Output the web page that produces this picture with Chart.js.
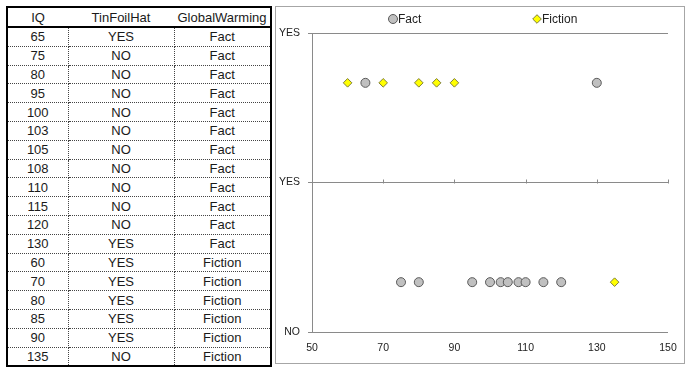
<!DOCTYPE html>
<html>
<head>
<meta charset="utf-8">
<script src="https://cdn.jsdelivr.net/npm/chart.js@4.4.1/dist/chart.umd.min.js"></script>
<style>
    body { margin: 0; background: #fff; width: 693px; height: 372px; position: relative; overflow: hidden; }
    #dataTable {
        position: absolute; left: 6px; top: 6px; width: 266px;
        border-collapse: collapse; border: 2px solid #000;
        font-family: "Liberation Sans", Arial, sans-serif; font-size: 13px; color: #1a1a1a;
    }
    #dataTable th, #dataTable td { text-align: center; padding: 0; }
    #dataTable th { font-weight: normal; height: 18px; border-bottom: 2px solid #000; }
    #dataTable td { height: 17.8px; border: 1px dotted #444; }
    #dataTable tr:last-child td { border-bottom: none; }
    #dataTable td:first-child { border-left: none; }
    #dataTable td:last-child { border-right: none; }
    #chartBox {
        position: absolute; left: 275px; top: 6px; width: 408px; height: 356px;
        border: 1px solid #a6a6a6;
    }
</style>
</head>
<body>
<table id="dataTable">
    <colgroup><col style="width:61px"><col style="width:106px"><col style="width:97px"></colgroup>
    <thead><tr id="headRow"></tr></thead>
    <tbody id="tableBody"></tbody>
</table>
<div id="chartBox"><canvas id="scatterChart" width="408" height="356"></canvas></div>

<script>
// table / chart data
const columns = ['IQ', 'TinFoilHat', 'GlobalWarming'];
const iq = [65, 75, 80, 95, 100, 103, 105, 108, 110, 115, 120, 130, 60, 70, 80, 85, 90, 135];
const tinFoilHat = ['YES', 'NO', 'NO', 'NO', 'NO', 'NO', 'NO', 'NO', 'NO', 'NO', 'NO', 'YES',
                    'YES', 'YES', 'YES', 'YES', 'YES', 'NO'];
const globalWarming = ['Fact', 'Fact', 'Fact', 'Fact', 'Fact', 'Fact', 'Fact', 'Fact', 'Fact', 'Fact', 'Fact', 'Fact',
                       'Fiction', 'Fiction', 'Fiction', 'Fiction', 'Fiction', 'Fiction'];
const seriesNames = ['Fact', 'Fiction'];
const answerLevel = { YES: 1, NO: 0 };
const xTicks = [50, 70, 90, 110, 130, 150];
const yTickLabels = ['NO', 'YES', 'YES'];
const xAxisCrossAt = 0.5;

document.addEventListener('DOMContentLoaded', function() {
    buildTable();
    renderScatter();
});

function buildTable() {
    const head = document.getElementById('headRow');
    columns.forEach(c => {
        const th = document.createElement('th');
        th.textContent = c;
        head.appendChild(th);
    });
    const body = document.getElementById('tableBody');
    iq.forEach((v, i) => {
        const tr = document.createElement('tr');
        [v, tinFoilHat[i], globalWarming[i]].forEach(txt => {
            const td = document.createElement('td');
            td.textContent = txt;
            tr.appendChild(td);
        });
        body.appendChild(tr);
    });
}

function seriesPoints(name) {
    const pts = [];
    iq.forEach((v, i) => {
        if (globalWarming[i] === name) pts.push({ x: v, y: answerLevel[tinFoilHat[i]] });
    });
    return pts;
}

// small tick marks where the x axis crosses the middle gridline
const midTicks = {
    id: 'midTicks',
    afterDatasetsDraw(chart) {
        const ctx = chart.ctx;
        const xs = chart.scales.x;
        const yPix = Math.round(chart.scales.y.getPixelForValue(xAxisCrossAt)) + 0.5;
        ctx.save();
        ctx.strokeStyle = '#8a8a8a';
        ctx.lineWidth = 1;
        ctx.beginPath();
        xTicks.forEach(t => {
            const x = Math.round(xs.getPixelForValue(t)) + 0.5;
            ctx.moveTo(x, yPix);
            ctx.lineTo(x, yPix - 4);
        });
        ctx.stroke();
        ctx.restore();
    }
};

// legend spread across the top like the spreadsheet chart
const spreadLegend = {
    id: 'spreadLegend',
    afterDraw(chart) {
        const ctx = chart.ctx;
        const mid = chart.width / 2;
        const offsets = [-87, 57];
        ctx.save();
        chart.data.datasets.forEach((ds, i) => {
            const x = mid + offsets[i];
            const y = 12;
            ctx.fillStyle = ds.pointBackgroundColor;
            ctx.strokeStyle = ds.pointBorderColor;
            ctx.lineWidth = 1;
            Chart.helpers.drawPoint(ctx, { pointStyle: ds.pointStyle, radius: ds.pointRadius, rotation: 0, borderWidth: 1 }, x, y);
            ctx.fillStyle = '#222';
            ctx.font = '12px "Liberation Sans", Arial, sans-serif';
            ctx.textBaseline = 'middle';
            ctx.textAlign = 'left';
            ctx.fillText(ds.label, x + 5, y + 1);
        });
        ctx.restore();
    }
};

function renderScatter() {
    const ctx = document.getElementById('scatterChart').getContext('2d');
    const tickFont = { family: '"Liberation Sans", Arial, sans-serif', size: 10.5 };
    new Chart(ctx, {
        type: 'scatter',
        data: {
            datasets: [
                {
                    label: seriesNames[0],
                    data: seriesPoints(seriesNames[0]),
                    pointStyle: 'circle',
                    pointRadius: 4.5,
                    pointBackgroundColor: '#c0c0c0',
                    pointBorderColor: '#5a5a5a',
                    pointBorderWidth: 1
                },
                {
                    label: seriesNames[1],
                    data: seriesPoints(seriesNames[1]),
                    pointStyle: 'rectRot',
                    pointRadius: 4.3,
                    pointBackgroundColor: '#ffff00',
                    pointBorderColor: '#7d7d3c',
                    pointBorderWidth: 1
                }
            ]
        },
        options: {
            responsive: false,
            animation: false,
            layout: { padding: { left: 0, right: 16, top: 26, bottom: 9 } },
            plugins: {
                legend: { display: false },
                tooltip: { enabled: false }
            },
            scales: {
                x: {
                    type: 'linear',
                    min: xTicks[0],
                    max: xTicks[xTicks.length - 1],
                    grid: { display: false, drawTicks: false, tickLength: 0 },
                    border: { display: false },
                    ticks: { stepSize: xTicks[1] - xTicks[0], padding: 10, color: '#222', font: tickFont },
                    afterFit: function(scale) {
                        scale.height = 22;
                        scale.paddingRight = 0;
                        scale.paddingLeft = 0;
                    }
                },
                y: {
                    min: -0.25,
                    max: 1.25,
                    grid: { color: '#8a8a8a', tickLength: 4 },
                    border: { color: '#8a8a8a' },
                    ticks: {
                        stepSize: 0.75,
                        padding: 8,
                        color: '#222',
                        font: tickFont,
                        callback: function(value, index) { return yTickLabels[index]; }
                    },
                    afterFit: function(scale) {
                        scale.width = 36;
                    }
                }
            }
        },
        plugins: [midTicks, spreadLegend]
    });
}
</script>
</body>
</html>
